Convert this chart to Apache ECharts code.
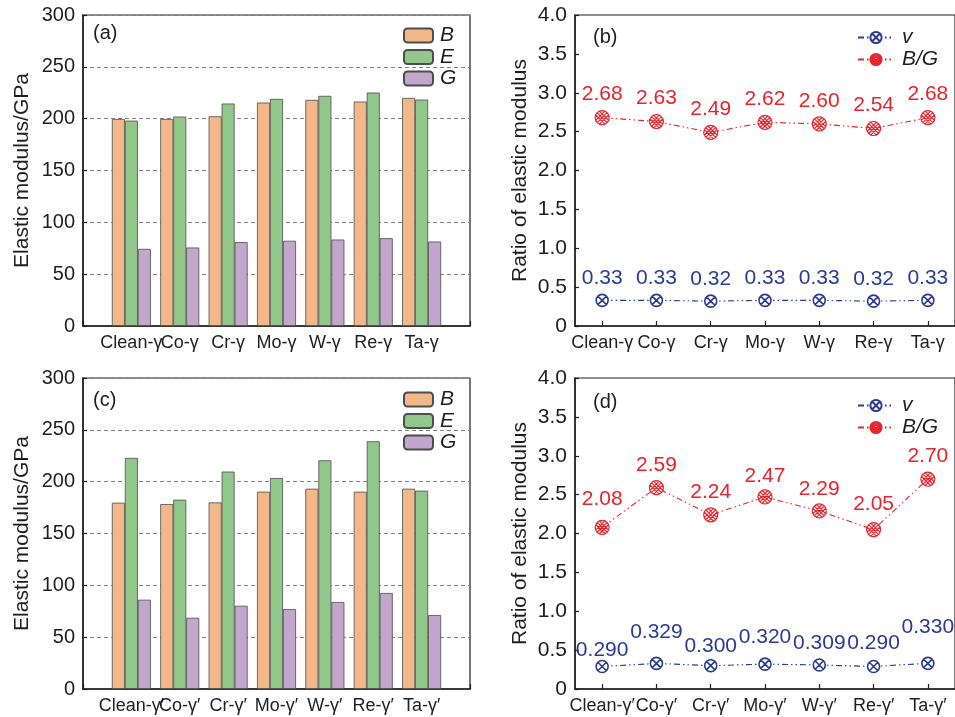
<!DOCTYPE html>
<html>
<head>
<meta charset="utf-8">
<script src="https://cdn.jsdelivr.net/npm/echarts@6/dist/echarts.min.js"></script>
<style>
  html, body { margin: 0; padding: 0; background: #ffffff; }
  #chart { width: 955px; height: 717px; }
</style>
</head>
<body>
<div id="chart"></div>
<script>
// Alloying elements in the γ and γ′ phases
const categoriesGamma = ['Clean-γ', 'Co-γ', 'Cr-γ', 'Mo-γ', 'W-γ', 'Re-γ', 'Ta-γ'];
const categoriesGammaPrime = ['Clean-γ′', 'Co-γ′', 'Cr-γ′', 'Mo-γ′', 'W-γ′', 'Re-γ′', 'Ta-γ′'];

// Elastic moduli (GPa), γ phase
const bulkGamma = [199.7, 199.7, 202.3, 215.5, 218.1, 216.5, 220.0];
const youngGamma = [198.1, 202.0, 214.6, 219.1, 222.0, 225.2, 218.4];
const shearGamma = [74.4, 75.7, 80.9, 82.2, 83.4, 84.7, 81.5];

// Elastic moduli (GPa), γ′ phase
const bulkGammaPrime = [179.7, 178.4, 180.0, 190.3, 193.2, 190.3, 193.2];
const youngGammaPrime = [222.9, 182.6, 209.7, 203.5, 220.6, 239.0, 191.3];
const shearGammaPrime = [86.1, 68.7, 80.3, 77.1, 83.9, 92.6, 71.3];

// Poisson's ratio and Pugh's ratio B/G
const poissonGamma = [0.33, 0.33, 0.32, 0.33, 0.33, 0.32, 0.33];
const pughGamma = [2.68, 2.63, 2.49, 2.62, 2.60, 2.54, 2.68];
const poissonGammaPrime = [0.290, 0.329, 0.300, 0.320, 0.309, 0.290, 0.330];
const pughGammaPrime = [2.08, 2.59, 2.24, 2.47, 2.29, 2.05, 2.70];

// Axis tick values
const modulusTicks = [0, 50, 100, 150, 200, 250, 300];
const ratioTicks = [0, 0.5, 1.0, 1.5, 2.0, 2.5, 3.0, 3.5, 4.0];

// Extra lift (px) for crowded value labels in panel (d)
const poissonLabelLiftD = [-6, 9, -3, 5, -1, 1, 14];
const pughLabelLiftD = [5, -1, 0, -2, -1, 2, 0];

const FONT = '"Liberation Sans", Arial, Helvetica, sans-serif';
const INK = '#1e1e1e';
const COLOR_B = '#f3b88a';
const COLOR_E = '#92c78b';
const COLOR_G = '#c2a6cb';
const COLOR_V = '#2b3b93';
const COLOR_BG = '#e8232b';

// circle with a cross, and a circle with a double cross
const markV = 'path://M10,0A10,10,0,1,1,10,20A10,10,0,1,1,10,0Z M2.93,2.93L17.07,17.07 M17.07,2.93L2.93,17.07';
const markBG = 'path://M10,0A10,10,0,1,1,10,20A10,10,0,1,1,10,0Z M2.93,2.93L17.07,17.07 M17.07,2.93L2.93,17.07 M6,0.8L19.2,14 M14,0.8L0.8,14 M0.8,6L14,19.2 M19.2,6L6,19.2';

const gridBox = [
  { left: 83, top: 15, width: 387, height: 311 },
  { left: 575, top: 15, width: 387, height: 311 },
  { left: 83, top: 378, width: 387, height: 311 },
  { left: 575, top: 378, width: 387, height: 311 }
];

const grids = gridBox.map(g => Object.assign({
  show: true, borderColor: INK, borderWidth: 1.2, backgroundColor: 'transparent', containLabel: false
}, g));

function barXAxis(gridIndex, cats) {
  return {
    type: 'value', gridIndex, min: 0, max: cats.length + 1, interval: 1,
    axisLine: { show: true, lineStyle: { color: INK, width: 1.5 } },
    axisTick: { show: true, inside: true, length: 5, lineStyle: { color: INK, width: 1.2 } },
    splitLine: { show: false },
    axisLabel: {
      fontFamily: FONT, fontSize: 18, color: INK, margin: 8,
      formatter: v => cats[v - 1] || ''
    }
  };
}

function lineXAxis(gridIndex, cats) {
  return {
    type: 'category', gridIndex, data: cats, boundaryGap: true,
    axisLine: { show: true, lineStyle: { color: INK, width: 1.5 } },
    axisTick: { show: true, inside: true, alignWithLabel: true, length: 5, lineStyle: { color: INK, width: 1.2 } },
    splitLine: { show: false },
    axisLabel: { fontFamily: FONT, fontSize: 18, color: INK, margin: 8, interval: 0 }
  };
}

function modulusYAxis(gridIndex) {
  return {
    type: 'value', gridIndex,
    min: modulusTicks[0], max: modulusTicks[modulusTicks.length - 1],
    interval: modulusTicks[1] - modulusTicks[0],
    name: 'Elastic modulus/GPa', nameLocation: 'middle', nameGap: 50,
    nameTextStyle: { fontFamily: FONT, fontSize: 21, color: INK },
    axisLine: { show: true, lineStyle: { color: INK, width: 1.5 } },
    axisTick: { show: true, inside: true, length: 4, lineStyle: { color: INK, width: 1.2 } },
    axisLabel: { fontFamily: FONT, fontSize: 20, color: INK, margin: 8 },
    splitLine: { show: true, lineStyle: { color: '#8c7c7c', type: [4, 3], width: 1 } }
  };
}

function ratioYAxis(gridIndex) {
  return {
    type: 'value', gridIndex,
    min: ratioTicks[0], max: ratioTicks[ratioTicks.length - 1],
    interval: ratioTicks[1] - ratioTicks[0],
    name: 'Ratio of elastic modulus', nameLocation: 'middle', nameGap: 44,
    nameTextStyle: { fontFamily: FONT, fontSize: 21, color: INK },
    axisLine: { show: true, lineStyle: { color: INK, width: 1.5 } },
    axisTick: { show: true, inside: true, length: 4, lineStyle: { color: INK, width: 1.2 } },
    axisLabel: {
      fontFamily: FONT, fontSize: 21, color: INK, margin: 8,
      formatter: v => (v === 0 ? '0' : v.toFixed(1))
    },
    splitLine: { show: false }
  };
}

function barSeries(name, values, color, axisIndex) {
  return {
    type: 'bar', name, xAxisIndex: axisIndex, yAxisIndex: axisIndex,
    data: values.map((v, i) => [i + 1, v]),
    barWidth: 13, barGap: '0%',
    itemStyle: { color, borderColor: '#4d4d4d', borderWidth: 0.8 },
    emphasis: { disabled: true }
  };
}

function lineSeries(name, values, color, mark, axisIndex, digits, lift) {
  return {
    type: 'line', name, xAxisIndex: axisIndex, yAxisIndex: axisIndex,
    data: values.map((v, i) => ({
      value: v,
      label: lift ? { offset: [0, -lift[i]] } : undefined
    })),
    symbol: mark, symbolSize: name === 'v' ? 12 : 14, symbolKeepAspect: true,
    itemStyle: { color: '#ffffff', borderColor: color, borderWidth: name === 'v' ? 1.6 : 1.2 },
    lineStyle: { color, width: 1.1, type: [6, 3, 1.5, 3, 1.5, 3] },
    label: {
      show: true, position: 'top', distance: 5,
      fontFamily: FONT, fontSize: 21, color,
      formatter: p => p.value.toFixed(digits)
    },
    emphasis: { disabled: true },
    z: 3
  };
}

function barLegend(left, top) {
  return {
    orient: 'vertical', left, top, padding: 0, itemWidth: 29, itemHeight: 14, itemGap: 0.5,
    data: ['B', 'E', 'G'], selectedMode: false,
    textStyle: { fontFamily: FONT, fontSize: 21, fontStyle: 'italic', color: INK, padding: [0, 0, 0, 2] }
  };
}

function lineLegend(left, top) {
  return {
    orient: 'vertical', left, top, padding: 0, itemWidth: 36, itemHeight: 14, itemGap: 1,
    data: ['v', 'B/G'], selectedMode: false,
    textStyle: { fontFamily: FONT, fontSize: 21, fontStyle: 'italic', color: INK, padding: [0, 0, 0, 3] }
  };
}

function panelTag(text, left, top) {
  return {
    text, left, top, padding: 0,
    textStyle: { fontFamily: FONT, fontSize: 20, fontWeight: 'normal', color: INK }
  };
}

const option = {
  animation: false,
  backgroundColor: '#ffffff',
  title: [
    panelTag('(a)', 93, 23),
    panelTag('(b)', 593, 27),
    panelTag('(c)', 93, 390),
    panelTag('(d)', 593, 392)
  ],
  legend: [
    barLegend(403, 25),
    lineLegend(857, 27),
    barLegend(403, 389),
    lineLegend(857, 395)
  ],
  grid: grids,
  xAxis: [
    barXAxis(0, categoriesGamma),
    lineXAxis(1, categoriesGamma),
    barXAxis(2, categoriesGammaPrime),
    lineXAxis(3, categoriesGammaPrime)
  ],
  yAxis: [
    modulusYAxis(0),
    ratioYAxis(1),
    modulusYAxis(2),
    ratioYAxis(3)
  ],
  series: [
    barSeries('B', bulkGamma, COLOR_B, 0),
    barSeries('E', youngGamma, COLOR_E, 0),
    barSeries('G', shearGamma, COLOR_G, 0),
    lineSeries('v', poissonGamma, COLOR_V, markV, 1, 2, null),
    lineSeries('B/G', pughGamma, COLOR_BG, markBG, 1, 2, null),
    barSeries('B', bulkGammaPrime, COLOR_B, 2),
    barSeries('E', youngGammaPrime, COLOR_E, 2),
    barSeries('G', shearGammaPrime, COLOR_G, 2),
    lineSeries('v', poissonGammaPrime, COLOR_V, markV, 3, 3, poissonLabelLiftD),
    lineSeries('B/G', pughGammaPrime, COLOR_BG, markBG, 3, 2, pughLabelLiftD)
  ]
};

const chart = echarts.init(document.getElementById('chart'), null, { renderer: 'canvas' });
chart.setOption(option);
</script>
</body>
</html>
